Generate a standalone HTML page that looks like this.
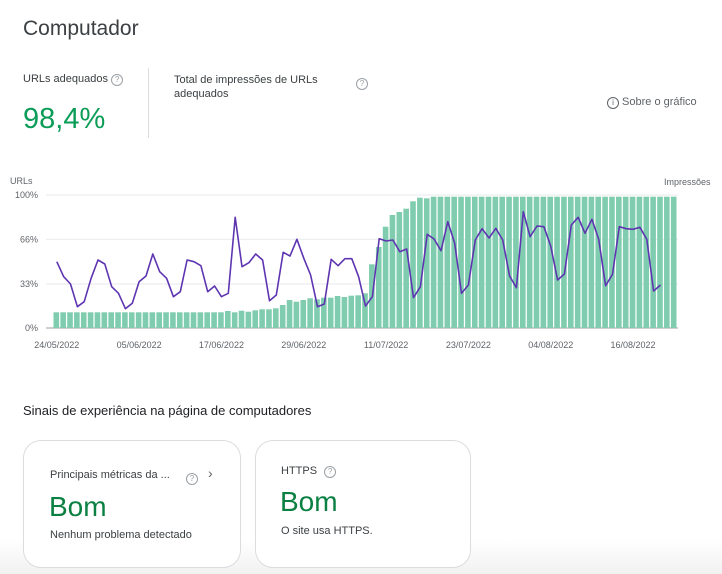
<!DOCTYPE html>
<html><head><meta charset="utf-8"><style>
body{margin:0;width:722px;height:574px;background:#fff;font-family:"Liberation Sans",sans-serif;overflow:hidden;position:relative;color:#202124}
.a{position:absolute;white-space:nowrap}
.q{display:inline-block;width:10px;height:10px;border:1px solid #9aa0a6;border-radius:50%;font-size:8px;line-height:10px;text-align:center;color:#9aa0a6}
.card{position:absolute;top:440px;height:126px;border:1px solid #dadce0;border-radius:18px;background:#fff}
</style></head><body>
<div style="position:absolute;left:0;top:540px;width:722px;height:34px;background:linear-gradient(#fff,#f1f1f1)"></div>
<div class="a" style="left:23px;top:17px;font-size:21px;color:#3c4043">Computador</div>
<div class="a" style="left:23px;top:73px;font-size:11px;color:#3c4043">URLs adequados <span class="q">?</span></div>
<div class="a" style="left:23px;top:103px;font-size:29px;color:#0b9d58">98,4%</div>
<div style="position:absolute;left:148px;top:68px;width:1px;height:70px;background:#dadce0"></div>
<div class="a" style="left:174px;top:73px;font-size:11px;line-height:14px;color:#3c4043">Total de impressões de URLs<br>adequados</div>
<div class="a" style="left:356px;top:73px"><span class="q">?</span></div>
<div class="a" style="left:607px;top:96px;font-size:11px;color:#5f6368"><span class="q" style="border-color:#5f6368;color:#5f6368">i</span> Sobre o gráfico</div>
<svg id="ch" style="position:absolute;left:0;top:0" width="722" height="380"></svg>
<div class="a" style="left:23px;top:403px;font-size:13px;color:#202124">Sinais de experiência na página de computadores</div>
<div class="card" style="left:23px;width:216px">
<div class="a" style="left:26px;top:28px;font-size:11px;color:#3c4043">Principais métricas da ...</div>
<div class="a" style="left:162px;top:27px"><span class="q">?</span></div>
<div class="a" style="left:184px;top:24px;font-size:14px;color:#5f6368">›</div>
<div class="a" style="left:25px;top:50px;font-size:28px;color:#0b8043">Bom</div>
<div class="a" style="left:26px;top:88px;font-size:11px;color:#3c4043">Nenhum problema detectado</div>
</div>
<div class="card" style="left:255px;width:214px">
<div class="a" style="left:25px;top:24px;font-size:11px;color:#3c4043">HTTPS <span class="q" style="margin-left:4px">?</span></div>
<div class="a" style="left:24px;top:45px;font-size:28px;color:#0b8043">Bom</div>
<div class="a" style="left:25px;top:84px;font-size:11px;color:#3c4043">O site usa HTTPS.</div>
</div>
<script>
var s='';
function y(z){return 170+z/3;}
[[195,'100%'],[239.3,'66%'],[284,'33%'],[328,'0%']].forEach(function(t,i){
 s+='<line x1="46" x2="678" y1="'+t[0]+'" y2="'+t[0]+'" stroke="'+(i==3?'#9aa0a6':'#e8eaed')+'"/>';
 s+='<text x="38" y="'+(t[0]+3)+'" text-anchor="end" font-size="9" fill="#5f6368">'+t[1]+'</text>';});
s+='<text x="10" y="184" font-size="9" fill="#5f6368">URLs</text><text x="664" y="185" font-size="9" fill="#5f6368">Impressões</text>';
var b=[];for(var i=0;i<25;i++)b.push(427);
b=b.concat([423,427,422,425,421,418,418,415,405,390,395,390,385,388,383,383,378,381,377,376,370,283,231,170,135,126,116,94,83,85]);
while(b.length<91)b.push(80);
var st=6.86;
b.forEach(function(v,i){var t=y(v);s+='<rect x="'+(53.5+st*i).toFixed(2)+'" y="'+t.toFixed(1)+'" width="5.6" height="'+(328-t).toFixed(1)+'" fill="#7fcdae"/>';});
var l=[275,320,342,410,395,325,270,282,350,370,416,400,335,318,252,305,325,380,365,270,275,287,365,348,380,370,142,290,278,252,270,392,375,247,258,208,265,315,410,402,268,287,266,266,320,408,380,206,213,210,245,237,383,350,193,207,242,155,220,370,345,210,176,204,175,210,318,353,125,200,168,170,228,330,312,165,142,190,148,208,347,313,170,176,178,172,208,363,345];
var p=l.map(function(v,i){return (56.8+st*i).toFixed(1)+','+y(v).toFixed(1)}).join(' ');
s+='<polyline points="'+p+'" fill="none" stroke="#5e35b1" stroke-width="1.6" stroke-linejoin="round"/>';
[['24/05/2022',0],['05/06/2022',12],['17/06/2022',24],['29/06/2022',36],['11/07/2022',48],['23/07/2022',60],['04/08/2022',72],['16/08/2022',84]].forEach(function(d){
 s+='<text x="'+(56.8+st*d[1])+'" y="348" text-anchor="middle" font-size="9" fill="#5f6368">'+d[0]+'</text>';});
document.getElementById('ch').innerHTML=s;
</script>
</body></html>
